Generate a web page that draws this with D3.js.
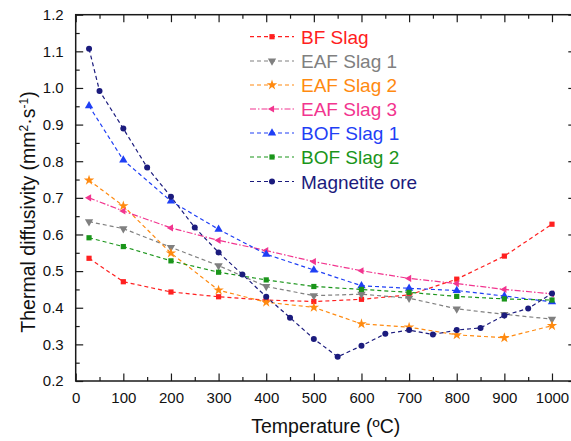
<!DOCTYPE html>
<html>
<head>
<meta charset="utf-8">
<script src="https://cdn.jsdelivr.net/npm/d3@7"></script>
<style>
  html, body { margin: 0; padding: 0; background: #fff; }
  svg { display: block; font-family: "Liberation Sans", Arial, sans-serif; }
</style>
</head>
<body>
<svg id="chart" width="571" height="441"></svg>
<script>
// Temperatures (ºC) at which the slags were measured
const slagTemps = [28, 100, 200, 300, 400, 500, 600, 700, 800, 900, 1000];
// Magnetite ore was measured every 50 ºC
const oreTemps = [28, 50, 100, 150, 200, 250, 300, 350, 400, 450, 500, 550, 600, 650, 700, 750, 800, 850, 900, 950, 1000];

// Thermal diffusivity, mm²·s⁻¹
const bfSlag   = [0.535, 0.471, 0.443, 0.430, 0.421, 0.417, 0.423, 0.435, 0.478, 0.541, 0.628];
const eafSlag1 = [0.635, 0.616, 0.565, 0.515, 0.458, 0.433, 0.437, 0.426, 0.397, 0.382, 0.369];
const eafSlag2 = [0.748, 0.678, 0.549, 0.448, 0.415, 0.401, 0.356, 0.347, 0.326, 0.318, 0.351];
const eafSlag3 = [0.700, 0.664, 0.618, 0.584, 0.556, 0.526, 0.501, 0.480, 0.466, 0.450, 0.438];
const bofSlag1 = [0.951, 0.803, 0.691, 0.614, 0.546, 0.503, 0.460, 0.453, 0.447, 0.432, 0.416];
const bofSlag2 = [0.591, 0.567, 0.528, 0.497, 0.476, 0.458, 0.450, 0.442, 0.431, 0.424, 0.421];
const magnetite = [1.107, 0.992, 0.889, 0.783, 0.703, 0.619, 0.551, 0.491, 0.430, 0.373, 0.315, 0.266,
                   0.296, 0.329, 0.339, 0.327, 0.339, 0.345, 0.379, 0.398, 0.439];

const seriesNames = ["BF Slag", "EAF Slag 1", "EAF Slag 2", "EAF Slag 3", "BOF Slag 1", "BOF Slag 2", "Magnetite ore"];

const xTickValues = [0, 100, 200, 300, 400, 500, 600, 700, 800, 900, 1000];
const yTickValues = [0.2, 0.3, 0.4, 0.5, 0.6, 0.7, 0.8, 0.9, 1.0, 1.1, 1.2];

const xTitle = "Temperature (ºC)";

// ---- styling per series ----
const styles = [
  { color: "#ff2020", symbol: "square",   dash: "4,3" },
  { color: "#808080", symbol: "triDown",  dash: "4,3" },
  { color: "#ff8a10", symbol: "star",     dash: "4,3" },
  { color: "#f2358f", symbol: "triLeft",  dash: "6,2,1.5,2" },
  { color: "#1f3ff5", symbol: "triUp",    dash: "4,3" },
  { color: "#1a951a", symbol: "square",   dash: "4,3" },
  { color: "#1b1b7d", symbol: "circle",   dash: "4,3" }
];

const series = [
  { x: slagTemps, y: bfSlag },
  { x: slagTemps, y: eafSlag1 },
  { x: slagTemps, y: eafSlag2 },
  { x: slagTemps, y: eafSlag3 },
  { x: slagTemps, y: bofSlag1 },
  { x: slagTemps, y: bofSlag2 },
  { x: oreTemps,  y: magnetite }
].map((s, i) => ({
  name: seriesNames[i],
  style: styles[i],
  points: s.x.map((t, j) => ({ t, v: s.y[j] }))
}));

const svg = d3.select("#chart");

const plotLeft = 75.7, plotRight = 575.8, plotTop = 14.7, plotBottom = 381;
const x = d3.scaleLinear().domain([0, 1050]).range([plotLeft, plotRight]);
const y = d3.scaleLinear().domain([0.2, 1.2]).range([plotBottom, plotTop]);

const axisColor = "#1a1a1a";
const majorLen = 7.5, minorLen = 4;

// ---- axes (ticks point into the plot on all four sides) ----
const minorX = d3.range(50, 1050, 100);
const minorY = d3.range(0.25, 1.2, 0.1);

function styleAxis(g) {
  g.select(".domain").remove();
  g.selectAll(".tick line").attr("stroke", axisColor).attr("stroke-width", 1.2);
  g.selectAll(".tick text").attr("fill", "#111").style("font-size", "15px")
    .style("font-family", "'Liberation Sans', Arial, sans-serif");
}

svg.append("g").attr("transform", `translate(0,${plotBottom})`)
  .call(d3.axisBottom(x).tickValues(xTickValues).tickSize(-majorLen).tickPadding(11).tickFormat(d3.format("d")))
  .call(styleAxis);
svg.append("g").attr("transform", `translate(0,${plotBottom})`)
  .call(d3.axisBottom(x).tickValues(minorX).tickSize(-minorLen).tickFormat(""))
  .call(styleAxis);
svg.append("g").attr("transform", `translate(0,${plotTop})`)
  .call(d3.axisTop(x).tickValues(xTickValues).tickSize(-majorLen).tickFormat(""))
  .call(styleAxis);
svg.append("g").attr("transform", `translate(0,${plotTop})`)
  .call(d3.axisTop(x).tickValues(minorX).tickSize(-minorLen).tickFormat(""))
  .call(styleAxis);

svg.append("g").attr("transform", `translate(${plotLeft},0)`)
  .call(d3.axisLeft(y).tickValues(yTickValues).tickSize(-majorLen).tickPadding(12).tickFormat(d3.format(".1f")))
  .call(styleAxis);
svg.append("g").attr("transform", `translate(${plotLeft},0)`)
  .call(d3.axisLeft(y).tickValues(minorY).tickSize(-minorLen).tickFormat(""))
  .call(styleAxis);
svg.append("g").attr("transform", `translate(${plotRight},0)`)
  .call(d3.axisRight(y).tickValues(yTickValues).tickSize(-majorLen).tickFormat(""))
  .call(styleAxis);
svg.append("g").attr("transform", `translate(${plotRight},0)`)
  .call(d3.axisRight(y).tickValues(minorY).tickSize(-minorLen).tickFormat(""))
  .call(styleAxis);

// frame
svg.append("rect")
  .attr("x", plotLeft).attr("y", plotTop)
  .attr("width", plotRight - plotLeft).attr("height", plotBottom - plotTop)
  .attr("fill", "none").attr("stroke", axisColor).attr("stroke-width", 1.5);

// ---- axis titles ----
svg.append("text")
  .attr("x", (plotLeft + plotRight) / 2).attr("y", 433)
  .attr("text-anchor", "middle")
  .style("font-size", "19.5px").attr("fill", "#111")
  .text(xTitle);

const yTitle = svg.append("text")
  .attr("transform", "translate(35,212) rotate(-90)")
  .attr("text-anchor", "middle")
  .style("font-size", "19.5px").attr("fill", "#111");
yTitle.append("tspan").text("Thermal diffusivity (mm");
yTitle.append("tspan").attr("dy", -7).style("font-size", "12px").text("2");
yTitle.append("tspan").attr("dy", 7).text("·s");
yTitle.append("tspan").attr("dy", -7).style("font-size", "12px").text("-1");
yTitle.append("tspan").attr("dy", 7).text(")");

// ---- markers ----
function drawMarker(g, kind, color) {
  switch (kind) {
    case "square":
      g.append("rect").attr("x", -2.6).attr("y", -2.6).attr("width", 5.2).attr("height", 5.2).attr("fill", color);
      break;
    case "circle":
      g.append("circle").attr("r", 3).attr("fill", color);
      break;
    case "triUp":
      g.append("path").attr("d", d3.symbol(d3.symbolTriangle, 30)()).attr("fill", color);
      break;
    case "triDown":
      g.append("path").attr("d", d3.symbol(d3.symbolTriangle, 30)()).attr("transform", "rotate(180)").attr("fill", color);
      break;
    case "triLeft":
      g.append("path").attr("d", d3.symbol(d3.symbolTriangle, 22)()).attr("transform", "rotate(-90)").attr("fill", color);
      break;
    case "star":
      g.append("path").attr("d", d3.symbol(d3.symbolStar, 34)()).attr("fill", color);
      break;
  }
}

const line = d3.line().x(d => x(d.t)).y(d => y(d.v));

const plot = svg.append("g");
series.forEach(s => {
  plot.append("path")
    .datum(s.points)
    .attr("d", line)
    .attr("fill", "none")
    .attr("stroke", s.style.color)
    .attr("stroke-width", 1.2)
    .attr("stroke-dasharray", s.style.dash);
});
series.forEach(s => {
  s.points.forEach(p => {
    const g = plot.append("g").attr("transform", `translate(${x(p.t)},${y(p.v)})`);
    drawMarker(g, s.style.symbol, s.style.color);
  });
});

// ---- legend ----
const legendRows = [36.7, 61, 85, 109, 133, 157, 181.5];
const legend = svg.append("g");
series.forEach((s, i) => {
  const ly = legendRows[i];
  legend.append("line")
    .attr("x1", 250).attr("x2", 294).attr("y1", ly).attr("y2", ly)
    .attr("stroke", s.style.color).attr("stroke-width", 1.2)
    .attr("stroke-dasharray", s.style.dash);
  const g = legend.append("g").attr("transform", `translate(272,${ly})`);
  drawMarker(g, s.style.symbol, s.style.color);
  legend.append("text")
    .attr("x", 301).attr("y", ly + 7)
    .style("font-size", "19px")
    .attr("fill", s.style.color)
    .text(s.name);
});
</script>
</body>
</html>
